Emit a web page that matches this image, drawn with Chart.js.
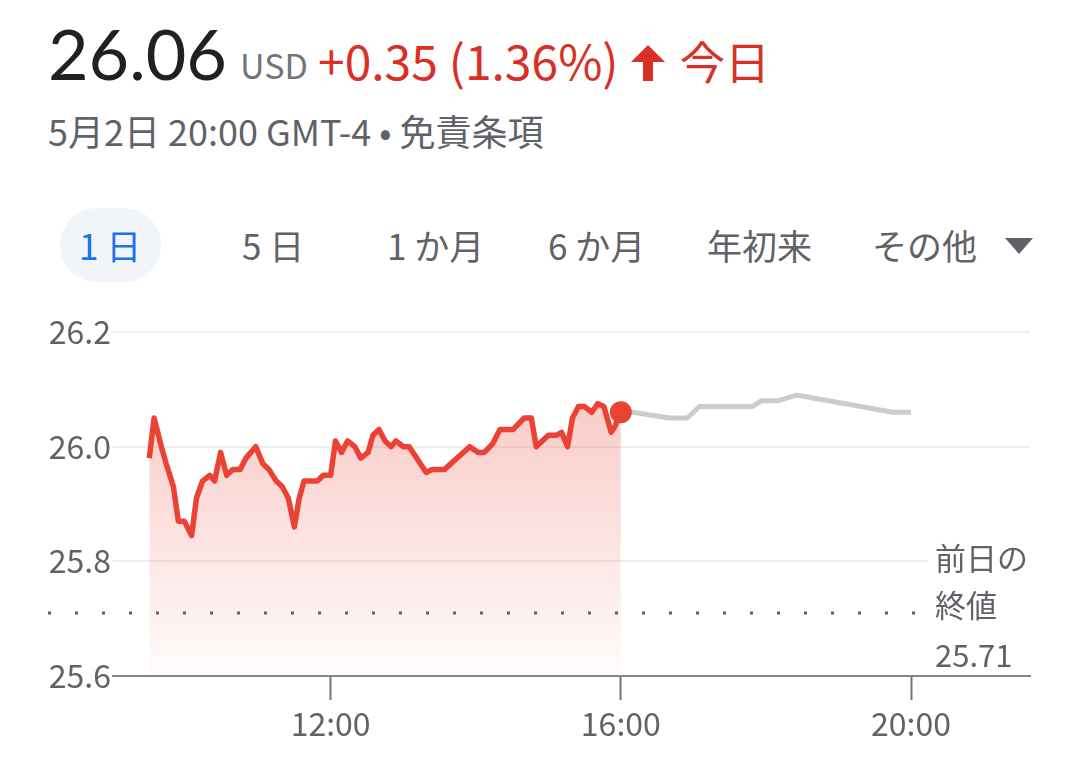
<!DOCTYPE html>
<html>
<head>
<meta charset="utf-8">
<title>26.06 USD</title>
<script src="https://cdn.jsdelivr.net/npm/chart.js"></script>
<style>
  body { margin: 0; background: #fff; width: 1080px; height: 758px; overflow: hidden; position: relative;
         font-family: 'Noto Sans CJK JP', 'Noto Sans', sans-serif; }
  .abs { position: absolute; white-space: nowrap; }
  .price { left: 48px; top: 18px; font: 400 70px/70px Lato, sans-serif; color: #202124; }
  .cur { left: 240px; top: 48px; font-size: 34px; line-height: 34px; color: #70757a; }
  .chg { left: 318px; top: 35px; font-size: 48px; line-height: 48px; color: #d93025; }
  .today { left: 680px; top: 38px; font-size: 45px; line-height: 45px; color: #d93025; }
  .arrow { left: 631px; top: 45px; }
  .sub { left: 48px; top: 112px; font-size: 36px; line-height: 36px; color: #5f6368; }
  .pill { left: 60px; top: 208px; width: 101px; height: 74px; border-radius: 37px; background: #f1f4f8; }
  .tab { top: 225px; font-size: 35px; line-height: 40px; color: #5f6368; }
  .tab.on { color: #1a73e8; }
  .tri { left: 1005px; top: 238px; width: 0; height: 0; border-left: 14px solid transparent;
         border-right: 14px solid transparent; border-top: 16px solid #5f6368; }
  #wrap { position: absolute; left: 0; top: 300px; width: 1080px; height: 458px; }
</style>
</head>
<body>
<div class="abs price">26.06</div>
<div class="abs cur">USD</div>
<div class="abs chg">+0.35 (1.36%)</div>
<svg class="abs arrow" width="34" height="36" viewBox="0 0 34 36"><path d="M17 0 L34 17 L22 17 L22 36 L12 36 L12 17 L0 17 Z" fill="#d93025"/></svg>
<div class="abs today">今日</div>
<div class="abs sub">5月2日 20:00 GMT-4 • 免責条項</div>

<div class="abs pill"></div>
<div class="abs tab on" style="left:79px">1 日</div>
<div class="abs tab" style="left:242px">5 日</div>
<div class="abs tab" style="left:387px">1 か月</div>
<div class="abs tab" style="left:548px">6 か月</div>
<div class="abs tab" style="left:707px">年初来</div>
<div class="abs tab" style="left:872px">その他</div>
<div class="abs tri"></div>

<div id="wrap"><canvas id="chart" width="1080" height="458"></canvas></div>

<script>
// regular session (red) and after hours (grey)
const sessionTimes = ['9:30','9:34','9:40','9:44','9:50','9:54','9:59','10:05','10:09','10:14','10:20','10:24','10:29','10:34','10:39','10:45','10:50','10:58','11:04','11:09','11:15','11:20','11:25','11:30','11:34','11:38','11:49','11:54','12:00','12:04','12:09','12:14','12:20','12:25','12:31','12:35','12:40','12:45','12:50','12:54','13:00','13:05','13:19','13:24','13:34','13:55','14:02','14:07','14:14','14:20','14:31','14:40','14:46','14:50','15:00','15:07','15:11','15:16','15:20','15:25','15:30','15:36','15:41','15:46','15:52','15:55','16:00'];
const sessionPrices = [25.98,26.05,26.00,25.97,25.93,25.87,25.87,25.845,25.91,25.94,25.95,25.94,25.99,25.95,25.96,25.96,25.98,26.00,25.97,25.96,25.94,25.93,25.91,25.86,25.91,25.94,25.94,25.95,25.95,26.01,25.99,26.01,26.00,25.98,25.99,26.02,26.03,26.01,26.00,26.01,26.00,26.00,25.955,25.96,25.96,26.00,25.99,25.99,26.005,26.03,26.03,26.05,26.05,26.00,26.02,26.02,26.025,26.00,26.05,26.07,26.07,26.06,26.075,26.07,26.025,26.035,26.06];
const afterTimes = ['16:00','16:10','16:40','16:55','17:05','17:49','17:56','18:10','18:25','19:45','20:00'];
const afterPrices = [26.06,26.06,26.05,26.05,26.07,26.07,26.08,26.08,26.09,26.06,26.06];
const previousClose = 25.71;
const yTicks = [25.6, 25.8, 26.0, 26.2];
const xTicks = ['12:00', '16:00', '20:00'];

function toHours(t) {
    const [h, m] = t.split(':').map(Number);
    return h + m / 60;
}
function fromHours(v) {
    const h = Math.floor(v);
    const m = Math.round((v - h) * 60);
    return h + ':' + String(m).padStart(2, '0');
}

const font = "'Noto Sans CJK JP', 'Noto Sans', sans-serif";
const grey = '#5f6368';

const closeLine = {
    id: 'closeLine',
    afterDatasetsDraw(chart) {
        const {ctx, scales: {y}} = chart;
        const py = y.getPixelForValue(previousClose);
        ctx.save();
        ctx.strokeStyle = grey;
        ctx.lineWidth = 3;
        ctx.setLineDash([3, 24]);
        ctx.beginPath();
        ctx.moveTo(48, py);
        ctx.lineTo(918, py);
        ctx.stroke();
        ctx.restore();
    },
    afterDraw(chart) {
        const {ctx, chartArea, scales: {y}} = chart;
        const py = y.getPixelForValue(previousClose);
        ctx.save();
        ctx.fillStyle = '#fff';
        ctx.fillRect(928, py - 85, 112, chartArea.bottom - 2 - (py - 85));
        ctx.fillStyle = grey;
        ctx.font = '31px ' + font;
        ctx.textBaseline = 'middle';
        ctx.fillText('前日の', 935, py - 55);
        ctx.fillText('終値', 935, py - 8);
        ctx.fillText(previousClose.toFixed(2), 935, py + 42);
        ctx.restore();
    }
};

new Chart(document.getElementById('chart'), {
    type: 'line',
    data: {
        datasets: [{
            data: sessionTimes.map((t, i) => ({x: toHours(t), y: sessionPrices[i]})),
            borderColor: '#ea4335',
            borderWidth: 5.5,
            borderJoinStyle: 'round',
            tension: 0,
            fill: 'start',
            backgroundColor: (c) => {
                const a = c.chart.chartArea;
                if (!a) return 'rgba(234,67,53,0.15)';
                const g = c.chart.ctx.createLinearGradient(0, a.top, 0, a.bottom);
                g.addColorStop(0, 'rgba(234,67,53,0.34)');
                g.addColorStop(1, 'rgba(234,67,53,0.02)');
                return g;
            },
            pointRadius: (c) => c.dataIndex === sessionPrices.length - 1 ? 11 : 0,
            pointBackgroundColor: '#ea4335',
            pointBorderWidth: 0,
            pointHoverRadius: 0
        }, {
            data: afterTimes.map((t, i) => ({x: toHours(t), y: afterPrices[i]})),
            borderColor: '#cccccc',
            borderWidth: 5,
            borderJoinStyle: 'round',
            tension: 0,
            fill: false,
            pointRadius: 0
        }]
    },
    options: {
        responsive: false,
        animation: false,
        layout: { padding: { left: 48, right: 50, top: 32, bottom: 0 } },
        plugins: { legend: { display: false }, tooltip: { enabled: false } },
        scales: {
            x: {
                type: 'linear',
                min: 9,
                max: 21.64,
                afterBuildTicks: (axis) => { axis.ticks = xTicks.map(t => ({value: toHours(t)})); },
                afterFit: (axis) => { axis.height = 82; },
                ticks: {
                    callback: (v) => fromHours(v),
                    color: grey,
                    font: { family: font, size: 32 },
                    padding: 5,
                    maxRotation: 0
                },
                grid: { drawOnChartArea: false, drawTicks: true, tickLength: 24, tickColor: '#70757a', tickWidth: 2 },
                border: { display: true, color: '#80868b', width: 2 }
            },
            y: {
                min: 25.6,
                max: 26.2,
                afterBuildTicks: (axis) => { axis.ticks = yTicks.map(v => ({value: v})); },
                afterFit: (axis) => { axis.width = 65; },
                ticks: {
                    callback: (v) => v.toFixed(1),
                    color: grey,
                    font: { family: font, size: 32 },
                    padding: 2
                },
                grid: { color: '#efefef', lineWidth: 2, drawTicks: false },
                border: { display: false }
            }
        }
    },
    plugins: [closeLine]
});
</script>
</body>
</html>
